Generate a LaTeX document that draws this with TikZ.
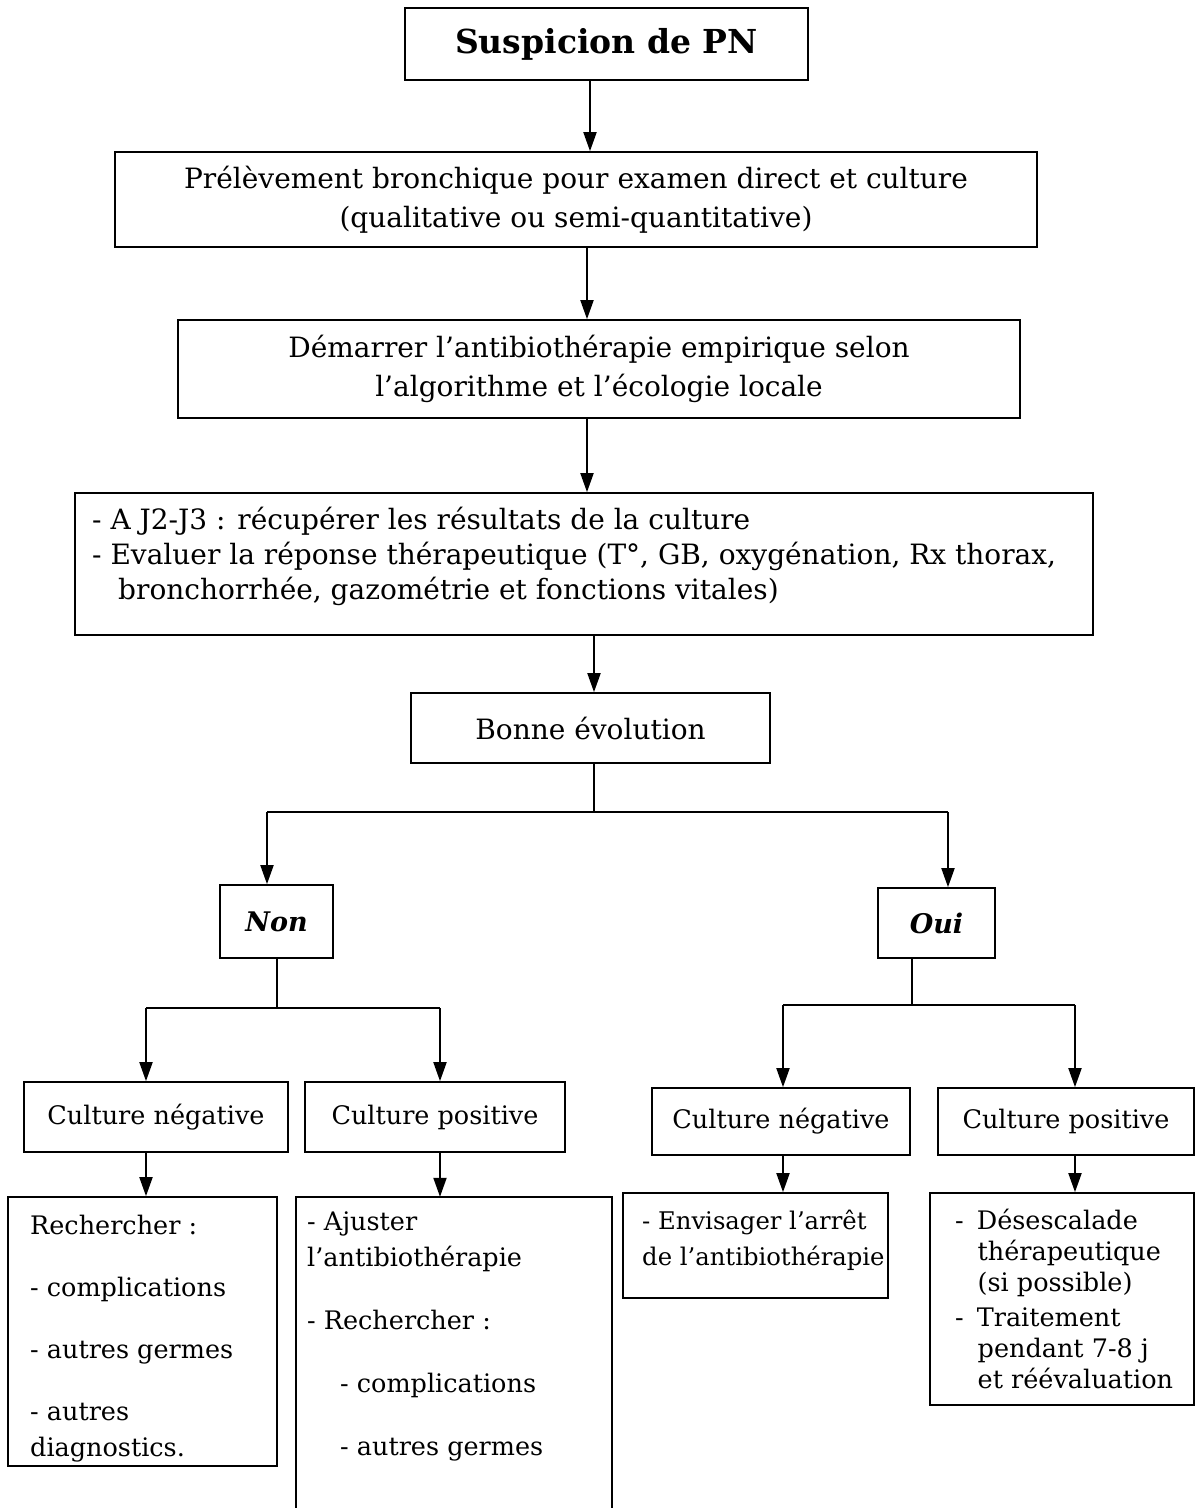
\documentclass[tikz,border=0pt]{standalone}
\usepackage{fontspec}
\setmainfont{DejaVu Serif}
\usetikzlibrary{arrows.meta,calc}
\begin{document}
\begin{tikzpicture}[x=1pt,y=-1pt,
  box/.style={draw, line width=1.7pt, inner sep=0pt},
  arr/.style={line width=1.9pt, -{Triangle[length=19pt,width=13pt]}},
  ln/.style={line width=1.6pt},
  big/.style={font=\fontsize{28}{39}\selectfont, align=center},
  small/.style={font=\fontsize{25.5}{36}\selectfont, align=center},
  lefttxt/.style={inner sep=0pt, align=left, anchor=north west}]
\fill[white] (0,0) rectangle (1195,1508);
\useasboundingbox (0,0) rectangle (1195,1508);

% main column
\node[box, minimum width=403pt, minimum height=72pt, font=\fontsize{33}{38}\selectfont\bfseries] (b1) at (606.5,44) {Suspicion de PN};
\node[box, big, minimum width=922pt, minimum height=95pt] (b2) at (576,199.5) {Prélèvement bronchique pour examen direct et culture\\(qualitative ou semi-quantitative)};
\node[box, big, minimum width=842pt, minimum height=98pt] (b3) at (599,369) {Démarrer l’antibiothérapie empirique selon\\l’algorithme et l’écologie locale};
\node[box, minimum width=1018pt, minimum height=142pt] (b4) at (584,564) {};
\node[lefttxt, font=\fontsize{28}{35}\selectfont] (t4) at (92,507) {- A J2-J3 : récupérer les résultats de la culture\\- Evaluer la réponse thérapeutique (T°, GB, oxygénation, Rx thorax,\\\hspace*{26pt}bronchorrhée, gazométrie et fonctions vitales)};
\node[box, big, minimum width=359pt, minimum height=70pt] (b5) at (590.5,728) {Bonne évolution};

% Non / Oui
\node[box, minimum width=113pt, minimum height=73pt, font=\fontsize{27}{32}\selectfont\bfseries\itshape] (non) at (276.5,921.5) {Non};
\node[box, minimum width=117pt, minimum height=70pt, font=\fontsize{27}{32}\selectfont\bfseries\itshape] (oui) at (936.5,923) {Oui};

% culture boxes
\node[box, small, minimum width=264pt, minimum height=70pt] (cn1) at (156,1117) {Culture négative};
\node[box, small, minimum width=260pt, minimum height=70pt] (cp1) at (435,1117) {Culture positive};
\node[box, small, minimum width=258pt, minimum height=67pt] (cn2) at (781,1121.5) {Culture négative};
\node[box, small, minimum width=256pt, minimum height=67pt] (cp2) at (1066,1121.5) {Culture positive};

% bottom boxes
\node[box, minimum width=269pt, minimum height=269pt] (L1) at (142.5,1331.5) {};
\begin{scope}
\clip (L1.south west) rectangle (L1.north east);
\node[lefttxt, font=\fontsize{25.5}{36}\selectfont] (t5) at (30,1215) {Rechercher :\\[26pt]- complications\\[26pt]- autres germes\\[26pt]- autres\\diagnostics.};
\end{scope}
\node[inner sep=0pt, minimum width=316pt, minimum height=320pt] (L2) at (454,1357) {};
\draw[line width=1.7pt] (L2.south west) -- (L2.north west) -- (L2.north east) -- (L2.south east);
\node[lefttxt, font=\fontsize{25.5}{36}\selectfont] (t6) at (307,1212) {- Ajuster\\l’antibiothérapie\\[27pt]- Rechercher :\\[27pt]\hspace*{33pt}- complications\\[27pt]\hspace*{33pt}- autres germes};
\node[box, minimum width=265pt, minimum height=105pt] (R1) at (755.5,1245.5) {};
\node[lefttxt, font=\fontsize{24.3}{36}\selectfont] (t7) at (642,1210) {- Envisager l’arrêt\\de l’antibiothérapie};
\node[box, minimum width=264pt, minimum height=212pt] (R2) at (1062,1299) {};
\node[lefttxt, font=\fontsize{25.5}{31}\selectfont] (t8) at (955,1209) {-\hspace{13pt}Désescalade\\\hspace*{22.5pt}thérapeutique\\\hspace*{22.5pt}(si possible)\\[4pt]-\hspace{13pt}Traitement\\\hspace*{22.5pt}pendant 7-8 j\\\hspace*{22.5pt}et réévaluation};

% connector coordinates
\coordinate (c1) at (590,0);
\coordinate (c2) at (587,0);
\coordinate (c3) at (594,0);
\coordinate (s1) at (594,812);
\coordinate (sL) at (267,812);
\coordinate (sR) at (948,812);
\coordinate (n1) at (277,1008);
\coordinate (nL) at (146,1008);
\coordinate (nR) at (440,1008);
\coordinate (o1) at (912,1005);
\coordinate (oL) at (783,1005);
\coordinate (oR) at (1075,1005);

\draw[arr] (b1.south -| c1) -- (b2.north -| c1);
\draw[arr] (b2.south -| c2) -- (b3.north -| c2);
\draw[arr] (b3.south -| c2) -- (b4.north -| c2);
\draw[arr] (b4.south -| c3) -- (b5.north -| c3);
\draw[ln] (b5.south -| c3) -- (s1);
\draw[ln] (sL) -- (sR);
\draw[arr] (sL) -- (non.north -| sL);
\draw[arr] (sR) -- (oui.north -| sR);

\draw[ln] (non.south -| n1) -- (n1);
\draw[ln] (nL) -- (nR);
\draw[arr] (nL) -- (cn1.north -| nL);
\draw[arr] (nR) -- (cp1.north -| nR);
\draw[ln] (oui.south -| o1) -- (o1);
\draw[ln] (oL) -- (oR);
\draw[arr] (oL) -- (cn2.north -| oL);
\draw[arr] (oR) -- (cp2.north -| oR);

\draw[arr] (cn1.south -| nL) -- (L1.north -| nL);
\draw[arr] (cp1.south -| nR) -- (L2.north -| nR);
\draw[arr] (cn2.south -| oL) -- (R1.north -| oL);
\draw[arr] (cp2.south -| oR) -- (R2.north -| oR);
\end{tikzpicture}
\end{document}
